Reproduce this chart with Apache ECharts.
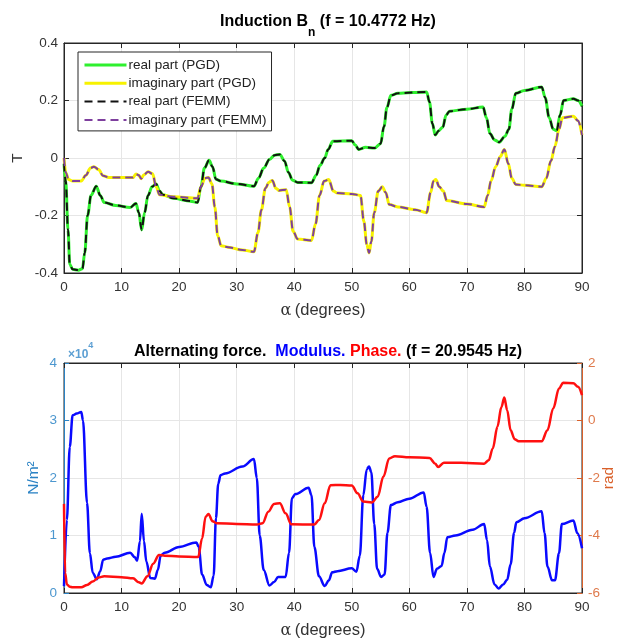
<!DOCTYPE html>
<html>
<head>
<meta charset="utf-8">
<script src="https://cdn.jsdelivr.net/npm/echarts@6/dist/echarts.min.js"></script>
<style>
  html, body { margin: 0; padding: 0; background: #fff; }
  #chart { width: 620px; height: 638px; }
</style>
</head>
<body>
<div id="chart"></div>
<script>
// Induction B_n, real part (T) vs rotor angle alpha (degrees)
const realAlpha = [0, 0.3, 0.7, 1.0, 1.5, 2.5, 3.2, 3.6, 4.1, 4.7, 5.6, 6.3, 7.0, 9.0, 11.5, 12.5, 13.0, 13.5, 14.0, 14.6,
  15.3, 16.0, 16.6, 17.2, 19.0, 22.0, 23.2, 23.8, 24.4, 25.2, 25.8, 26.4, 27.2, 30.0, 33.0, 33.8, 34.7, 35.7, 36.6, 37.5,
  38.3, 39.0, 39.7, 40.6, 43.0, 43.8, 44.5, 45.3, 45.9, 46.7, 50.0, 50.6, 51.2, 52.4, 54.0, 55.0, 55.6, 56.1, 56.8, 58.0,
  63.0, 63.5, 64.0, 64.5, 65.1, 65.8, 66.4, 67.0, 70.0, 72.8, 73.4, 74.0, 74.8, 75.6, 76.6, 77.3, 77.8, 78.5, 80.0, 83.0,
  83.6, 84.3, 85.0, 85.6, 86.2, 86.8, 88.5, 89.3, 90.0];
const realT = [-0.02, -0.08, -0.25, -0.37, -0.387, -0.39, -0.385, -0.33, -0.2, -0.13, -0.098, -0.13, -0.155, -0.165, -0.172, -0.158, -0.19, -0.25, -0.19, -0.13,
  -0.1, -0.09, -0.115, -0.128, -0.14, -0.15, -0.155, -0.1, -0.035, -0.008, -0.03, -0.074, -0.08, -0.09, -0.098, -0.07, -0.035, -0.005, 0.01, 0.012,
  -0.01, -0.05, -0.077, -0.085, -0.086, -0.06, -0.025, 0.0, 0.03, 0.058, 0.06, 0.045, 0.03, 0.037, 0.035, 0.05, 0.11, 0.175, 0.218, 0.225,
  0.23, 0.195, 0.12, 0.08, 0.095, 0.107, 0.15, 0.163, 0.17, 0.177, 0.14, 0.085, 0.063, 0.055, 0.075, 0.1, 0.17, 0.225, 0.235, 0.247,
  0.21, 0.14, 0.1, 0.095, 0.15, 0.2, 0.206, 0.2, 0.18];

// Induction B_n, imaginary part (T)
const imagAlpha = [0, 0.3, 0.8, 1.5, 3.0, 3.8, 4.6, 5.2, 6.0, 6.8, 7.8, 12.0, 12.5, 13.0, 13.4, 13.9, 14.6, 15.4, 16.0, 16.6,
  19.0, 23.2, 23.8, 24.5, 25.1, 25.7, 26.2, 26.7, 27.3, 28.5, 31.0, 33.0, 33.7, 34.3, 35.0, 35.6, 36.2, 36.8, 37.4, 38.6,
  39.2, 39.8, 40.6, 43.0, 43.7, 44.4, 45.2, 46.0, 46.8, 47.5, 50.0, 51.5, 52.1, 52.6, 53.0, 53.4, 53.9, 54.6, 55.3, 55.9,
  56.5, 58.0, 61.0, 63.0, 63.7, 64.2, 64.6, 65.2, 65.9, 66.5, 70.0, 73.0, 73.6, 74.2, 75.0, 75.8, 76.5, 77.2, 77.8, 78.5,
  80.0, 83.0, 83.8, 84.6, 85.3, 86.0, 86.6, 88.5, 89.3, 90.0];
const imagT = [0.0, -0.05, -0.075, -0.08, -0.08, -0.06, -0.035, -0.03, -0.04, -0.062, -0.068, -0.068, -0.056, -0.06, -0.072, -0.058, -0.048, -0.055, -0.1, -0.128,
  -0.135, -0.14, -0.1, -0.07, -0.068, -0.09, -0.17, -0.27, -0.305, -0.31, -0.32, -0.326, -0.26, -0.18, -0.105, -0.085, -0.078, -0.105, -0.113, -0.11,
  -0.17, -0.255, -0.282, -0.287, -0.23, -0.13, -0.08, -0.075, -0.115, -0.122, -0.125, -0.13, -0.22, -0.3, -0.33, -0.29, -0.19, -0.115, -0.1, -0.12,
  -0.162, -0.17, -0.18, -0.19, -0.12, -0.08, -0.075, -0.1, -0.115, -0.148, -0.16, -0.17, -0.13, -0.08, -0.03, 0.005, 0.03, -0.02, -0.07, -0.092,
  -0.095, -0.1, -0.07, -0.01, 0.04, 0.1, 0.14, 0.145, 0.13, 0.08];

// Alternating force, modulus (N/m^2)
const modAlpha = [0, 0.5, 1.0, 1.5, 2.2, 3.0, 3.3, 4.0, 4.5, 5.0, 5.7, 6.3, 6.8, 7.5, 9.0, 11.5, 12.3, 12.7, 13.2, 13.5,
  13.9, 14.3, 15.0, 15.8, 16.3, 16.8, 17.5, 20.0, 23.0, 23.4, 24.0, 24.8, 25.5, 26.0, 26.4, 26.8, 27.2, 28.0, 31.0, 33.0,
  33.5, 34.0, 34.7, 35.7, 36.5, 37.2, 38.5, 39.1, 39.6, 40.2, 42.5, 43.0, 43.5, 44.3, 45.3, 46.0, 46.6, 47.5, 50.0, 50.8,
  51.4, 52.0, 52.6, 53.0, 53.4, 53.9, 54.4, 55.1, 55.7, 56.2, 56.8, 58.0, 60.0, 62.5, 63.0, 63.6, 64.2, 64.8, 65.6, 66.1,
  66.6, 68.0, 71.0, 73.0, 73.5, 74.0, 74.8, 75.5, 76.3, 77.0, 77.6, 78.2, 78.6, 80.0, 83.0, 83.5, 84.0, 84.8, 85.3, 86.0,
  86.5, 88.5, 89.2, 90.0];
const modulus = [1200, 12700, 25400, 30900, 31200, 31500, 30000, 15700, 6900, 3500, 2400, 3800, 5800, 6000, 6300, 7000, 6200, 5600, 9000, 13800,
  9000, 5500, 2600, 2500, 4000, 6500, 7000, 8000, 8800, 8000, 3200, 1400, 1000, 3000, 13000, 19000, 20500, 20800, 22000, 23300,
  20000, 10000, 4000, 1300, 1900, 2800, 2800, 7000, 16500, 17200, 18300, 17000, 8000, 2900, 1200, 2200, 3600, 3800, 4300, 3700,
  6500, 17000, 21500, 22000, 21000, 12000, 4200, 2800, 3200, 10500, 15300, 15800, 16400, 17500, 15000, 7000, 2800, 4200, 4700, 7000,
  9700, 10000, 11000, 12000, 9200, 4600, 1500, 800, 1500, 2300, 5000, 10500, 12300, 13000, 14200, 10400, 4600, 2200, 2200, 6900,
  12000, 12600, 10400, 7800];

// Alternating force, phase (rad)
const phaseAlpha = [0, 0.2, 0.5, 1.0, 1.5, 3.0, 4.0, 5.0, 6.0, 7.0, 10.0, 12.0, 13.0, 13.5, 14.5, 15.5, 16.5, 17.5, 20.0, 23.3,
  24.0, 24.6, 25.1, 25.8, 26.5, 30.0, 33.5, 34.5, 35.5, 36.5, 37.5, 38.5, 39.5, 43.5, 44.3, 45.3, 46.3, 48.0, 50.0, 51.0,
  52.0, 53.5, 54.5, 55.5, 56.5, 57.5, 60.0, 63.5, 64.5, 65.0, 66.0, 69.0, 73.0, 73.8, 74.5, 75.3, 76.0, 76.5, 77.0, 77.6,
  78.3, 79.0, 83.0, 84.0, 85.0, 86.0, 86.7, 88.5, 89.3, 90.0];
const phase = [-2.9, -5.3, -5.7, -5.78, -5.8, -5.8, -5.72, -5.6, -5.46, -5.42, -5.45, -5.49, -5.63, -5.67, -5.42, -4.98, -4.68, -4.7, -4.73, -4.75,
  -4.1, -3.35, -3.25, -3.5, -3.57, -3.6, -3.62, -3.57, -3.17, -2.9, -2.88, -3.23, -3.61, -3.62, -3.46, -2.88, -2.25, -2.24, -2.26, -2.53,
  -2.82, -2.85, -2.65, -1.95, -1.32, -1.24, -1.28, -1.3, -1.5, -1.62, -1.47, -1.47, -1.5, -1.38, -0.97, -0.22, 0.47, 0.8, 0.36, -0.34,
  -0.65, -0.72, -0.72, -0.34, 0.42, 1.11, 1.31, 1.3, 1.17, 0.88];

// Axis ticks
const alphaTicks = [0, 10, 20, 30, 40, 50, 60, 70, 80, 90];
const inductionTicks = [-0.4, -0.2, 0, 0.2, 0.4];
const modulusTicks = [0, 1, 2, 3, 4];      // in units of 10^4 N/m^2
const phaseTicks = [-6, -4, -2, 0, 2];

const zip = (xs, ys) => xs.map((x, i) => [x, ys[i]]);

const FONT = 'Liberation Sans, Arial, Helvetica, sans-serif';
const AX = '#262626';
const GRIDC = '#e6e6e6';
const BLUE_AX = '#2a82c4';
const ORANGE_AX = '#d9602a';
const TICK_FS = 13.5;
const TITLE_FS = 16;

function xAxisMain(gridIndex) {
  return {
    type: 'value', gridIndex, min: alphaTicks[0], max: alphaTicks[alphaTicks.length - 1],
    interval: alphaTicks[1] - alphaTicks[0],
    position: 'bottom',
    name: '{g|α} {t|(degrees)}', nameLocation: 'middle', nameGap: 29, nameMoveOverlap: false,
    nameTextStyle: { rich: {
      g: { fontFamily: 'DejaVu Serif, Liberation Serif, serif', fontSize: 16, color: '#333' },
      t: { fontFamily: FONT, fontSize: 16.5, color: '#333' } } },
    axisLine: { show: true, onZero: false, lineStyle: { color: AX, width: 1 } },
    axisTick: { show: true, inside: true, length: 5, lineStyle: { color: AX } },
    axisLabel: { color: '#333', fontFamily: FONT, fontSize: TICK_FS, margin: 7 },
    splitLine: { show: true, lineStyle: { color: GRIDC, width: 1 } }
  };
}
function xAxisTop(gridIndex) {
  return {
    type: 'value', gridIndex, min: 0, max: 90, interval: 10, position: 'top',
    axisLine: { show: true, onZero: false, lineStyle: { color: AX, width: 1 } },
    axisTick: { show: true, inside: true, length: 5, lineStyle: { color: AX } },
    axisLabel: { show: false }, splitLine: { show: false }
  };
}

const option = {
  animation: false,
  backgroundColor: '#fff',
  title: [
    {
      left: 323, top: 9, textAlign: 'center',
      text: '{b|Induction B}{s|n}{b| (f = 10.4772 Hz)}',
      textStyle: { rich: {
        b: { fontFamily: FONT, fontWeight: 'bold', fontSize: TITLE_FS, color: '#000', lineHeight: 18, verticalAlign: 'top' },
        s: { fontFamily: FONT, fontWeight: 'bold', fontSize: 12, color: '#000', lineHeight: 25, verticalAlign: 'bottom' } } }
    },
    {
      left: 323, top: 339, textAlign: 'center',
      text: '{k|Alternating force.  }{m|Modulus. }{p|Phase. }{k|(f = 20.9545 Hz)}',
      textStyle: { rich: {
        k: { fontFamily: FONT, fontWeight: 'bold', fontSize: TITLE_FS, color: '#000' },
        m: { fontFamily: FONT, fontWeight: 'bold', fontSize: TITLE_FS, color: '#0000ff' },
        p: { fontFamily: FONT, fontWeight: 'bold', fontSize: TITLE_FS, color: '#ff0000' } } }
    },
    {
      left: 63, top: 336,
      text: '{a|×10}{e|4}',
      textStyle: { rich: {
        a: { fontFamily: FONT, fontSize: 12, color: '#5c9fd3', lineHeight: 20, verticalAlign: 'bottom' },
        e: { fontFamily: FONT, fontSize: 9, color: '#5c9fd3', lineHeight: 20, verticalAlign: 'top' } } }
    }
  ],
  legend: {
    left: 78, top: 52, orient: 'vertical',
    data: ['real part (PGD)', 'imaginary part (PGD)', 'real part (FEMM)', 'imaginary part (FEMM)'],
    itemWidth: 42, itemHeight: 12, itemGap: 4.3,
    padding: [6, 5, 4, 5],
    borderColor: '#262626', borderWidth: 1, backgroundColor: '#fff',
    itemStyle: { opacity: 0 },
    lineStyle: { width: 'inherit', type: 'inherit' },
    textStyle: { fontFamily: FONT, fontSize: 13.5, lineHeight: 12, color: '#222', padding: [0, 0, 0, -3] }
  },
  grid: [
    { left: 64, right: 38, top: 43, height: 230, show: true, borderColor: AX, borderWidth: 1,
      backgroundColor: 'transparent', containLabel: false, outerBoundsMode: 'none' },
    { left: 64, right: 38, top: 363, height: 230, show: true, borderColor: AX, borderWidth: 1,
      backgroundColor: 'transparent', containLabel: false, outerBoundsMode: 'none' }
  ],
  xAxis: [xAxisMain(0), xAxisTop(0), xAxisMain(1), xAxisTop(1)],
  yAxis: [
    {
      type: 'value', gridIndex: 0, min: inductionTicks[0], max: inductionTicks[inductionTicks.length - 1],
      interval: inductionTicks[1] - inductionTicks[0], position: 'left',
      name: 'T', nameLocation: 'middle', nameGap: 38, nameRotate: 90, nameMoveOverlap: false,
      nameTextStyle: { fontFamily: FONT, fontSize: 15.5, color: '#333' },
      axisLine: { show: true, onZero: false, lineStyle: { color: AX } },
      axisTick: { show: true, inside: true, length: 5, lineStyle: { color: AX } },
      axisLabel: { color: '#333', fontFamily: FONT, fontSize: TICK_FS, margin: 6,
        formatter: v => String(Math.round(v * 10) / 10) },
      splitLine: { show: true, lineStyle: { color: GRIDC } }
    },
    {
      type: 'value', gridIndex: 0, min: -0.4, max: 0.4, interval: 0.2, position: 'right',
      axisLine: { show: true, onZero: false, lineStyle: { color: AX } },
      axisTick: { show: true, inside: true, length: 5, lineStyle: { color: AX } },
      axisLabel: { show: false }, splitLine: { show: false }
    },
    {
      type: 'value', gridIndex: 1, min: modulusTicks[0] * 1e4, max: modulusTicks[modulusTicks.length - 1] * 1e4,
      interval: 1e4, position: 'left',
      name: 'N/m²', nameLocation: 'middle', nameGap: 22, nameRotate: 90, nameMoveOverlap: false,
      nameTextStyle: { fontFamily: FONT, fontSize: 15.5, color: BLUE_AX },
      axisLine: { show: true, onZero: false, lineStyle: { color: BLUE_AX } },
      axisTick: { show: true, inside: true, length: 5, lineStyle: { color: BLUE_AX } },
      axisLabel: { color: '#4c97cf', fontFamily: FONT, fontSize: TICK_FS, margin: 7, formatter: v => String(v / 1e4) },
      splitLine: { show: true, lineStyle: { color: GRIDC } }
    },
    {
      type: 'value', gridIndex: 1, min: phaseTicks[0], max: phaseTicks[phaseTicks.length - 1],
      interval: phaseTicks[1] - phaseTicks[0], position: 'right',
      name: 'rad', nameLocation: 'middle', nameGap: 19, nameRotate: 90, nameMoveOverlap: false,
      nameTextStyle: { fontFamily: FONT, fontSize: 15.5, color: ORANGE_AX },
      axisLine: { show: true, onZero: false, lineStyle: { color: ORANGE_AX } },
      axisTick: { show: true, inside: true, length: 5, lineStyle: { color: ORANGE_AX } },
      axisLabel: { color: '#df7a4c', fontFamily: FONT, fontSize: TICK_FS, margin: 6 },
      splitLine: { show: false }
    }
  ],
  series: [
    {
      name: 'real part (PGD)', type: 'line', xAxisIndex: 0, yAxisIndex: 0,
      data: zip(realAlpha, realT), showSymbol: false, symbol: 'none',
      smooth: 0.35, smoothMonotone: 'x', color: '#2ef02e',
      lineStyle: { color: '#2ef02e', width: 3 }
    },
    {
      name: 'imaginary part (PGD)', type: 'line', xAxisIndex: 0, yAxisIndex: 0,
      data: zip(imagAlpha, imagT), showSymbol: false, symbol: 'none',
      smooth: 0.35, smoothMonotone: 'x', color: '#f7f200',
      lineStyle: { color: '#f7f200', width: 3 }
    },
    {
      name: 'real part (FEMM)', type: 'line', xAxisIndex: 0, yAxisIndex: 0,
      data: zip(realAlpha, realT), showSymbol: false, symbol: 'none',
      smooth: 0.35, smoothMonotone: 'x', color: '#111',
      lineStyle: { color: '#111', width: 2, type: [8, 5] }
    },
    {
      name: 'imaginary part (FEMM)', type: 'line', xAxisIndex: 0, yAxisIndex: 0,
      data: zip(imagAlpha, imagT), showSymbol: false, symbol: 'none',
      smooth: 0.35, smoothMonotone: 'x', color: '#7e3f9e',
      lineStyle: { color: '#7e3f9e', width: 2, type: [8, 5] }
    },
    {
      name: 'Modulus', type: 'line', xAxisIndex: 2, yAxisIndex: 2,
      data: zip(modAlpha, modulus), showSymbol: false, symbol: 'none',
      smooth: 0.35, smoothMonotone: 'x', lineStyle: { color: '#0a0aff', width: 2.5 }
    },
    {
      name: 'Phase', type: 'line', xAxisIndex: 2, yAxisIndex: 3,
      data: zip(phaseAlpha, phase), showSymbol: false, symbol: 'none',
      smooth: 0.35, smoothMonotone: 'x', lineStyle: { color: '#ff1010', width: 2.5 }
    }
  ]
};

const chart = echarts.init(document.getElementById('chart'), null, { renderer: 'canvas' });
chart.setOption(option);
</script>
</body>
</html>
